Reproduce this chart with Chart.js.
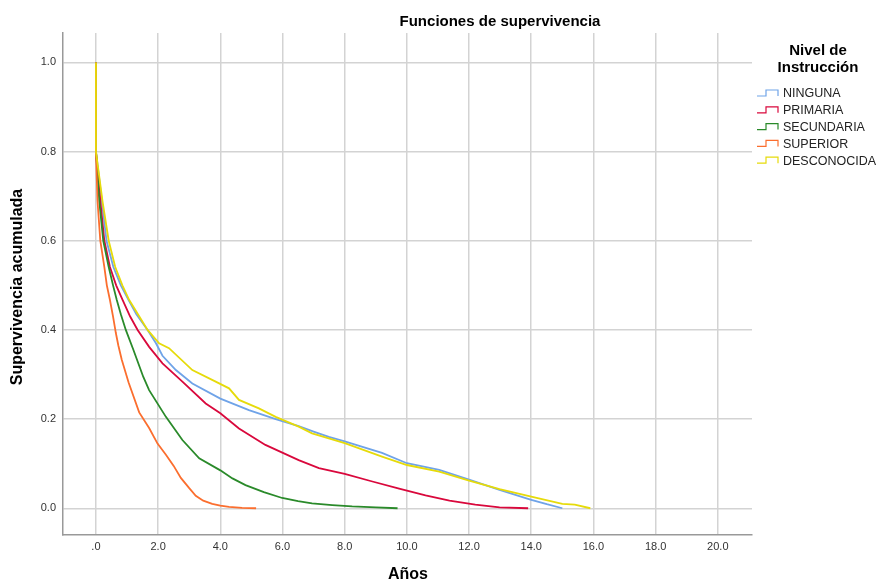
<!DOCTYPE html>
<html>
<head>
<meta charset="utf-8">
<script src="https://cdn.jsdelivr.net/npm/chart.js@4/dist/chart.umd.min.js"></script>
<style>
  html, body { margin: 0; padding: 0; background: #fff; }
  #wrap { width: 881px; height: 581px; position: relative; }
</style>
</head>
<body>
<div id="wrap"><canvas id="surv"></canvas></div>
<script>
// series labels and colours (legend order)
var groups = ['NINGUNA', 'PRIMARIA', 'SECUNDARIA', 'SUPERIOR', 'DESCONOCIDA'];
var colors = ['#6fa3e8', '#d9083c', '#2a8a2a', '#fb6e2e', '#e6db0a'];

// survival curves (years, cumulative survival)
var tNinguna = [0, 0, 0.19, 0.34, 0.56, 0.8, 1.05, 1.3, 1.66, 1.93, 2.14, 2.57, 3.10, 4.0, 4.92, 5.78, 6.52, 7.0, 7.49, 8.0, 8.6, 9.2, 10.0, 11.04, 12.0, 12.98, 14.0, 14.5, 15.0];
var sNinguna = [1.0, 0.80, 0.689, 0.60, 0.541, 0.50, 0.467, 0.435, 0.40, 0.37, 0.342, 0.31, 0.28, 0.246, 0.22, 0.20, 0.184, 0.172, 0.16, 0.15, 0.137, 0.124, 0.101, 0.086, 0.064, 0.041, 0.019, 0.009, 0];

var tPrimaria = [0, 0, 0.14, 0.27, 0.45, 0.65, 0.86, 1.1, 1.34, 1.71, 2.14, 2.78, 3.53, 4.0, 4.6, 5.45, 6.52, 7.17, 8.0, 8.89, 9.75, 10.6, 11.37, 12.2, 12.98, 13.9];
var sPrimaria = [1.0, 0.80, 0.689, 0.60, 0.541, 0.50, 0.467, 0.43, 0.40, 0.362, 0.325, 0.284, 0.235, 0.213, 0.179, 0.142, 0.108, 0.090, 0.077, 0.060, 0.044, 0.029, 0.017, 0.008, 0.002, 0];

var tSecundaria = [0, 0, 0.107, 0.235, 0.41, 0.55, 0.67, 0.8, 0.96, 1.2, 1.52, 1.71, 2.25, 2.78, 3.32, 4.0, 4.39, 4.81, 5.4, 5.99, 6.5, 6.95, 7.6, 8.24, 9.0, 9.7];
var sSecundaria = [1.0, 0.80, 0.689, 0.60, 0.541, 0.50, 0.467, 0.435, 0.40, 0.356, 0.295, 0.265, 0.205, 0.153, 0.112, 0.085, 0.067, 0.052, 0.036, 0.023, 0.016, 0.011, 0.007, 0.004, 0.002, 0];

var tSuperior = [0, 0, 0.05, 0.14, 0.27, 0.35, 0.45, 0.55, 0.64, 0.72, 0.83, 1.05, 1.39, 1.71, 1.98, 2.25, 2.5, 2.73, 3.0, 3.21, 3.45, 3.74, 4.0, 4.28, 4.7, 5.15];
var sSuperior = [1.0, 0.80, 0.689, 0.60, 0.541, 0.50, 0.467, 0.43, 0.393, 0.365, 0.333, 0.282, 0.215, 0.18, 0.145, 0.12, 0.095, 0.068, 0.045, 0.028, 0.017, 0.010, 0.006, 0.003, 0.001, 0];

var tDesconocida = [0, 0, 0.21, 0.41, 0.62, 0.85, 1.07, 1.35, 1.66, 2.03, 2.35, 3.10, 3.85, 4.28, 4.6, 5.24, 5.78, 6.52, 6.95, 8.0, 9.2, 10.0, 11.04, 12.0, 12.98, 14.0, 15.0, 15.4, 15.9];
var sDesconocida = [1.0, 0.80, 0.689, 0.60, 0.541, 0.50, 0.467, 0.435, 0.40, 0.37, 0.359, 0.31, 0.284, 0.269, 0.243, 0.224, 0.205, 0.183, 0.168, 0.146, 0.116, 0.097, 0.082, 0.062, 0.043, 0.026, 0.0097, 0.008, 0];

var xTicks = [0, 2, 4, 6, 8, 10, 12, 14, 16, 18, 20];
var yTicks = [0, 0.2, 0.4, 0.6, 0.8, 1.0];

var FONT = "'Liberation Sans', Arial, sans-serif";

function pts(t, s) {
  var out = [];
  for (var i = 0; i < t.length; i++) out.push({x: t[i], y: s[i]});
  return out;
}

var series = [
  pts(tNinguna, sNinguna),
  pts(tPrimaria, sPrimaria),
  pts(tSecundaria, sSecundaria),
  pts(tSuperior, sSuperior),
  pts(tDesconocida, sDesconocida)
];

var datasets = [];
for (var i = 0; i < groups.length; i++) {
  datasets.push({
    label: groups[i],
    data: series[i],
    borderColor: colors[i],
    borderWidth: 1.8,
    pointRadius: 0,
    tension: 0,
    fill: false,
    order: groups.length - i
  });
}

// titles + step-icon legend drawn on top of the chart
var decor = {
  id: 'decor',
  afterDraw: function(chart) {
    var ctx = chart.ctx;
    ctx.save();
    ctx.fillStyle = '#000';
    ctx.textBaseline = 'middle';
    ctx.textAlign = 'center';

    ctx.font = 'bold 15px ' + FONT;
    ctx.fillText('Funciones de supervivencia', 500, 22);

    ctx.font = 'bold 16px ' + FONT;
    ctx.fillText('Años', 408, 575);

    ctx.save();
    ctx.translate(18, 287);
    ctx.rotate(-Math.PI / 2);
    ctx.fillText('Supervivencia acumulada', 0, 0);
    ctx.restore();

    ctx.font = 'bold 15px ' + FONT;
    ctx.fillText('Nivel de', 818, 51);
    ctx.fillText('Instrucción', 818, 68);

    ctx.font = '12.5px ' + FONT;
    ctx.textAlign = 'left';
    chart.data.datasets.forEach(function(ds, k) {
      var y = 93 + k * 16.8;
      ctx.strokeStyle = ds.borderColor;
      ctx.lineWidth = 1.2;
      ctx.beginPath();
      ctx.moveTo(757, y + 3);
      ctx.lineTo(766, y + 3);
      ctx.lineTo(766, y - 3);
      ctx.lineTo(778, y - 3);
      ctx.lineTo(778, y + 3);
      ctx.stroke();
      ctx.fillStyle = '#222';
      ctx.fillText(ds.label, 783, y + 1);
    });
    ctx.restore();
  }
};

var chart = new Chart(document.getElementById('surv'), {
  type: 'line',
  data: { datasets: datasets },
  options: {
    responsive: true,
    maintainAspectRatio: false,
    animation: false,
    layout: { padding: { top: 33, right: 129, left: 0, bottom: 0 } },
    plugins: {
      legend: { display: false },
      title: { display: false },
      tooltip: { enabled: false }
    },
    scales: {
      x: {
        type: 'linear',
        min: -1.06,
        max: 21.1,
        afterFit: function(s) { s.height = 46; },
        afterBuildTicks: function(s) { s.ticks = xTicks.map(function(v) { return {value: v}; }); },
        grid: { color: '#d3d3d3', lineWidth: 1.5, drawTicks: false },
        border: { color: '#999', width: 1.5 },
        ticks: {
          padding: 5,
          color: '#333',
          font: { family: FONT, size: 11 },
          maxRotation: 0,
          callback: function(v) { return v === 0 ? '.0' : v.toFixed(1); }
        }
      },
      y: {
        type: 'linear',
        min: -0.06,
        max: 1.066,
        afterFit: function(s) { s.width = 63; },
        afterBuildTicks: function(s) { s.ticks = yTicks.map(function(v) { return {value: v}; }); },
        grid: { color: '#d3d3d3', lineWidth: 1.5, drawTicks: false },
        border: { color: '#999', width: 1.5 },
        ticks: {
          padding: 7,
          color: '#333',
          font: { family: FONT, size: 11 },
          callback: function(v) { return v.toFixed(1); }
        }
      }
    }
  },
  plugins: [decor]
});
</script>
</body>
</html>
